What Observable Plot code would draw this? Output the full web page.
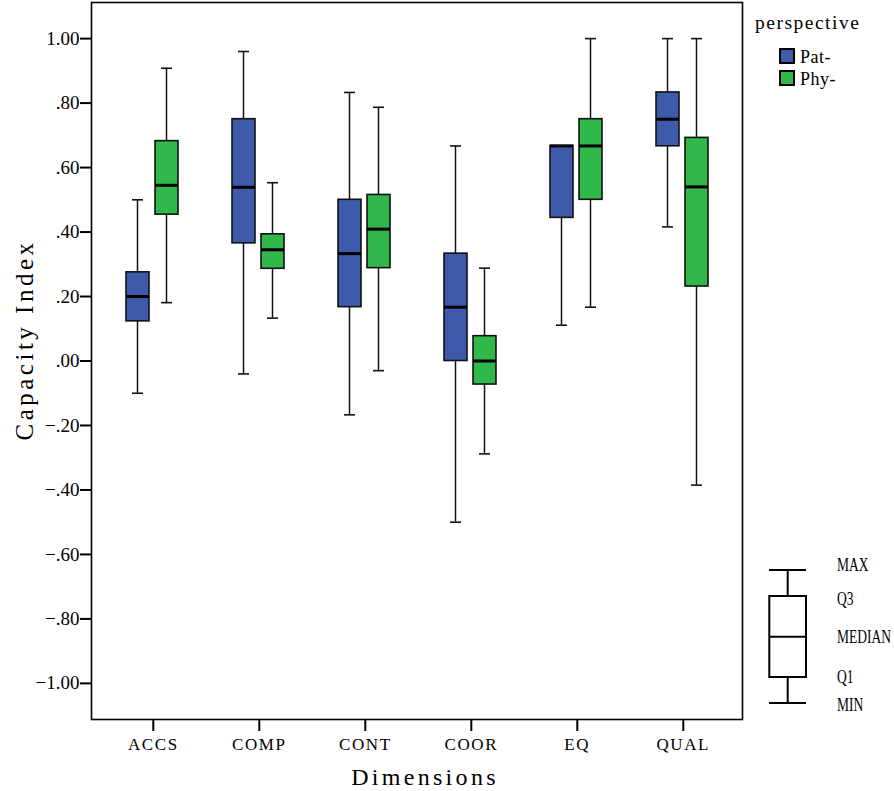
<!DOCTYPE html>
<html><head><meta charset="utf-8">
<script src="https://cdn.jsdelivr.net/npm/d3@7"></script>
<script src="https://cdn.jsdelivr.net/npm/@observablehq/plot@0.6"></script>
<style>
body{margin:0;background:#fff;}
#wrap{position:relative;width:894px;height:791px;font-family:"Liberation Serif",serif;color:#000;overflow:hidden}
.lab{position:absolute;white-space:nowrap;line-height:1}
.sw{position:absolute;width:16px;height:16px;box-sizing:border-box;border:2px solid #000}
</style></head><body><div id="wrap"></div>
<script>
const dimensions = ["ACCS","COMP","CONT","COOR","EQ","QUAL"];
const perspectives = ["Pat-","Phy-"];
const colors = ["#3d5aab","#30b84a"];
const yTicks = [-1,-0.8,-0.6,-0.4,-0.2,0,0.2,0.4,0.6,0.8,1];

const patMin = [-0.10,-0.04,-0.167,-0.50,0.111,0.416];
const patQ1  = [0.123,0.365,0.167,0.0,0.444,0.666];
const patMed = [0.20,0.539,0.333,0.167,0.667,0.75];
const patQ3  = [0.275,0.75,0.50,0.333,0.667,0.833];
const patMax = [0.50,0.96,0.833,0.667,0.667,1.0];

const phyMin = [0.181,0.133,-0.03,-0.288,0.167,-0.385];
const phyQ1  = [0.454,0.286,0.288,-0.073,0.50,0.231];
const phyMed = [0.545,0.345,0.409,0.0,0.667,0.54];
const phyQ3  = [0.682,0.393,0.515,0.077,0.75,0.692];
const phyMax = [0.908,0.553,0.787,0.288,1.0,1.0];

const rows = [];
dimensions.forEach((d,i)=>{
  rows.push({dim:d, persp:"Pat-", min:patMin[i], q1:patQ1[i], med:patMed[i], q3:patQ3[i], max:patMax[i]});
  rows.push({dim:d, persp:"Phy-", min:phyMin[i], q1:phyQ1[i], med:phyMed[i], q3:phyQ3[i], max:phyMax[i]});
});

const W=894,H=791,mL=91,mR=152,mT=2,mB=72;
const po=0.07;
const B=(W-mL-mR)/(dimensions.length+2*po);
const half=B/2;
const ins=(off,hw)=>({insetLeft:half+off-hw, insetRight:half-off-hw});
const offsets={"Pat-":-14.5,"Phy-":14.5};

const marks=[];
for (const p of perspectives){
  const d=rows.filter(r=>r.persp===p), o=offsets[p];
  marks.push(Plot.barY(d,{x:"dim",y1:"min",y2:"max",fill:"#111",...ins(o,0.75)}));
}
for (const p of perspectives){
  const d=rows.filter(r=>r.persp===p), o=offsets[p];
  marks.push(Plot.barY(d,{x:"dim",y1:"q1",y2:"q3",fill:"persp",stroke:"#111",strokeWidth:1.6,...ins(o,11.5)}));
  marks.push(Plot.tickY(d,{x:"dim",y:"med",stroke:"#000",strokeWidth:3,...ins(o,11.5)}));
  marks.push(Plot.tickY(d,{x:"dim",y:"max",stroke:"#111",strokeWidth:1.6,...ins(o,5.5)}));
  marks.push(Plot.tickY(d,{x:"dim",y:"min",stroke:"#111",strokeWidth:1.6,...ins(o,5.5)}));
}
const fmt = v => { let s=d3.format(".2f")(Math.abs(v)); if (s.startsWith("0")) s=s.slice(1); return (v<0?"\u2212":"")+s; };
marks.push(Plot.axisY({ticks:yTicks,tickFormat:fmt,tickSize:11,tickPadding:1,strokeWidth:2,label:null}));
marks.push(Plot.axisX({tickSize:12,tickPadding:6,strokeWidth:2,label:null,dx:0.8}));
marks.push(Plot.frame({stroke:"#000",strokeWidth:1.6}));

const chart = Plot.plot({
  width:W,height:H,marginLeft:mL,marginRight:mR,marginTop:mT,marginBottom:mB,
  style:{background:"#fff",overflow:"visible",color:"#000",fontFamily:"Liberation Serif",fontSize:"18px"},
  x:{domain:dimensions,paddingInner:0,paddingOuter:po,align:0.5,label:null},
  y:{domain:[-1.112,1.112],label:null},
  color:{domain:perspectives,range:colors},
  marks
});
const wrap=document.getElementById("wrap");
wrap.appendChild(chart);
chart.style.position="absolute";chart.style.left="0";chart.style.top="0";
chart.querySelectorAll("text").forEach(t=>{
  t.style.fontFamily='"Liberation Serif", serif';
  if (dimensions.includes(t.textContent)) { t.style.fontSize="17px"; t.style.letterSpacing="1.6px"; }
  else { t.style.fontSize="19px"; t.style.letterSpacing="0px"; }
});

function lab(text,css){const e=document.createElement("div");e.className="lab";e.textContent=text;Object.assign(e.style,css);wrap.appendChild(e);return e;}
lab("Capacity Index",{left:"24px",top:"340px",fontSize:"25px",letterSpacing:"3.5px",transform:"translate(-50%,-50%) rotate(-90deg)"});
lab("Dimensions",{left:"425px",top:"777px",fontSize:"24px",letterSpacing:"3.3px",transform:"translate(-50%,-50%)"});
lab("perspective",{left:"755px",top:"13px",fontSize:"19.5px",letterSpacing:"1.5px"});
perspectives.forEach((p,i)=>{
  const s=document.createElement("div");s.className="sw";s.style.left="779px";s.style.top=(48+22*i)+"px";s.style.background=colors[i];wrap.appendChild(s);
  lab(p,{left:"800px",top:(57+22*i)+"px",fontSize:"18px",letterSpacing:"0.5px",transform:"translateY(-50%)"});
});
// box legend
const ns="http://www.w3.org/2000/svg";
const lg=document.createElementNS(ns,"svg");
lg.setAttribute("width","60");lg.setAttribute("height","150");
Object.assign(lg.style,{position:"absolute",left:"760px",top:"560px"});
lg.innerHTML=`<g stroke="#000" stroke-width="2" fill="none">
<line x1="9" x2="46" y1="10" y2="10"/><line x1="27.7" x2="27.7" y1="10" y2="36"/>
<rect x="9.3" y="36" width="36.7" height="81"/><line x1="9.3" x2="46" y1="76.7" y2="76.7"/>
<line x1="27.7" x2="27.7" y1="117" y2="143"/><line x1="9" x2="46" y1="143" y2="143"/></g>`;
wrap.appendChild(lg);
[["MAX",565],["Q3",599],["MEDIAN",637],["Q1",677],["MIN",705]].forEach(([t,y])=>lab(t,{left:"837px",top:y+"px",fontSize:"18px",transformOrigin:"0 50%",transform:"translateY(-50%) scaleX(0.75)"}));
</script></body></html>
